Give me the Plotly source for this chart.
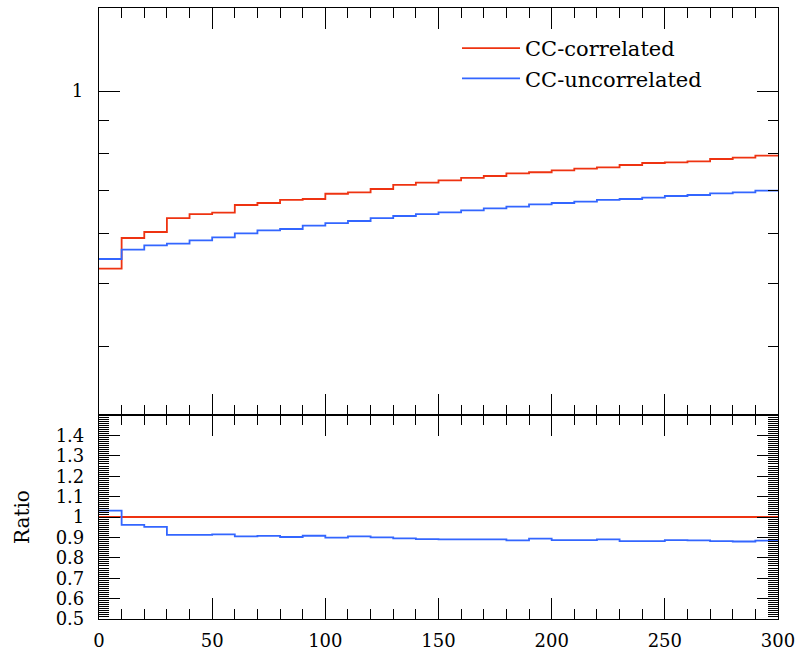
import plotly.graph_objects as go

bin_edges = list(range(0, 301, 10))

cc_correlated = [0.5284, 0.5897, 0.6026, 0.6335, 0.6427, 0.6460, 0.6639, 0.6687, 0.6761, 0.6784,
                 0.6914, 0.6950, 0.7033, 0.7135, 0.7196, 0.7256, 0.7317, 0.7369, 0.7441, 0.7468,
                 0.7521, 0.7567, 0.7603, 0.7666, 0.7721, 0.7741, 0.7768, 0.7833, 0.7872, 0.7929]
cc_uncorrelated = [0.5469, 0.5657, 0.5745, 0.5780, 0.5849, 0.5912, 0.5998, 0.6063, 0.6091, 0.6166,
                   0.6222, 0.6269, 0.6335, 0.6382, 0.6427, 0.6467, 0.6513, 0.6561, 0.6601, 0.6655,
                   0.6687, 0.6721, 0.6761, 0.6784, 0.6819, 0.6858, 0.6883, 0.6925, 0.6950, 0.6992]
ratio_correlated = [1.0] * 30
ratio_uncorrelated = [1.031, 0.961, 0.952, 0.912, 0.912, 0.915, 0.905, 0.907, 0.902, 0.908,
                      0.899, 0.905, 0.900, 0.895, 0.892, 0.890, 0.890, 0.890, 0.885, 0.894,
                      0.887, 0.887, 0.890, 0.882, 0.882, 0.887, 0.885, 0.882, 0.880, 0.884]

ratio_ticks = [0.5, 0.6, 0.7, 0.8, 0.9, 1.0, 1.1, 1.2, 1.3, 1.4]
ratio_labels = ["0.5", "0.6", "0.7", "0.8", "0.9", "1", "1.1", "1.2", "1.3", "1.4"]
x_ticks = [0, 50, 100, 150, 200, 250, 300]

RED = "#EE3311"
BLUE = "#3366FF"
FONT = "DejaVu Serif"


def step(vals):
    return bin_edges, list(vals) + [vals[-1]]


fig = go.Figure()
for name, vals, col in [("CC-correlated", cc_correlated, RED), ("CC-uncorrelated", cc_uncorrelated, BLUE)]:
    x, y = step(vals)
    fig.add_trace(go.Scatter(x=x, y=y, mode="lines", line=dict(shape="hv", color=col, width=1.8),
                             name=name, xaxis="x", yaxis="y"))
for vals, col in [(ratio_correlated, RED), (ratio_uncorrelated, BLUE)]:
    x, y = step(vals)
    fig.add_trace(go.Scatter(x=x, y=y, mode="lines", line=dict(shape="hv", color=col, width=1.8),
                             showlegend=False, xaxis="x2", yaxis="y2"))

split = 204 / 611
common_x = dict(range=[0, 300], showline=True, linecolor="black", linewidth=1.2, mirror="ticks",
                ticks="inside", ticklen=21, tickcolor="black", tickwidth=1, automargin=False,
                tickvals=x_ticks, showgrid=False, zeroline=False,
                minor=dict(dtick=10, tick0=0, ticks="inside", ticklen=10, tickcolor="black", tickwidth=1, showgrid=False))

fig.update_layout(
    width=799, height=653,
    margin=dict(l=99, r=21, t=8, b=34, autoexpand=False),
    plot_bgcolor="white", paper_bgcolor="white",
    font=dict(family=FONT, size=18, color="black"),
    xaxis=dict(**common_x, domain=[0, 1], anchor="y", showticklabels=False),
    yaxis=dict(type="log", range=[-0.5055, 0.1295], domain=[split, 1], anchor="x", automargin=False,
               showline=True, linecolor="black", linewidth=1.2, mirror="ticks",
               ticks="inside", ticklen=21, tickcolor="black", tickvals=[1], ticktext=["1"],
               ticklabelstandoff=11, showgrid=False, zeroline=False,
               minor=dict(tickmode="array", tickvals=[0.4, 0.5, 0.6, 0.7, 0.8, 0.9],
                          ticks="inside", ticklen=10, tickcolor="black", showgrid=False)),
    xaxis2=dict(**common_x, domain=[0, 1], anchor="y2", ticktext=[str(v) for v in x_ticks],
                ticklabelstandoff=5),
    yaxis2=dict(range=[0.5, 1.5], domain=[0, split], anchor="x2", automargin=False,
                showline=True, linecolor="black", linewidth=1.2, mirror="ticks",
                ticks="inside", ticklen=21, tickcolor="black", tickvals=ratio_ticks, ticktext=ratio_labels,
                ticklabelstandoff=10, showgrid=False, zeroline=False,
                minor=dict(dtick=0.01, tick0=0.5, ticks="inside", ticklen=10, tickcolor="black", showgrid=False)),
    legend=dict(x=(457 - 99) / 679, y=1 - (28 - 8) / 611, xanchor="left", yanchor="top",
                itemwidth=58,
                bgcolor="rgba(0,0,0,0)", font=dict(family=FONT, size=21), tracegroupgap=0),
    annotations=[dict(text="Ratio", xref="paper", yref="paper", x=(22 - 99) / 679, y=split / 2,
                      xanchor="center", yanchor="middle", textangle=-90, showarrow=False,
                      font=dict(family=FONT, size=20))],
)

fig.write_html("out.html")
